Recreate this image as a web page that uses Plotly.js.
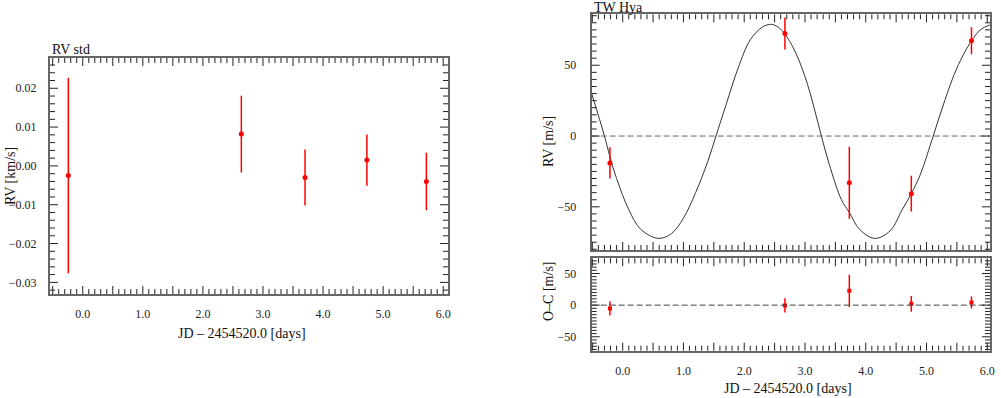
<!DOCTYPE html>
<html>
<head>
<meta charset="utf-8">
<script src="https://cdn.plot.ly/plotly-3.0.1.min.js"></script>
<style>
  html, body { margin: 0; padding: 0; background: #fff; }
  #plot { width: 1001px; height: 398px; }
</style>
</head>
<body>
<div id="plot"></div>
<script>
// Left panel: RV std (km/s)
const stdTime = [-0.24, 2.64, 3.70, 4.73, 5.72];
const stdRv = [-0.0025, 0.0082, -0.0030, 0.0015, -0.0040];
const stdErr = [0.0252, 0.0099, 0.0072, 0.0066, 0.0074];

// Right panel: TW Hya (m/s)
const hyaTime = [-0.21, 2.67, 3.73, 4.75, 5.74];
const hyaRv = [-19, 72.5, -33, -40.7, 67.3];
const hyaErr = [11, 11.3, 25.4, 12.6, 9.5];
const hyaResidual = [-5.3, -0.5, 22.6, 2, 4.2];

// Fitted curve
const fitTime = [-0.51, -0.3, -0.21, -0.1, 0.1, 0.3, 0.585, 0.8, 1.0, 1.2, 1.4, 1.535, 1.7, 1.9,
  2.1, 2.3, 2.45, 2.6, 2.8, 3.0, 3.15, 3.27, 3.4, 3.6, 3.73, 3.9, 4.15, 4.4, 4.6, 4.75, 4.9,
  5.11, 5.3, 5.5, 5.74, 5.9, 6.04];
const fitRv = [30, 0, -14.6, -30, -52, -66, -72.3, -69, -58, -40, -18, 0, 22, 48,
  68, 77, 78.9, 75.5, 63, 42, 20, 0, -20, -45, -54, -66, -72.3, -67, -52, -40.7, -27,
  0, 25, 48, 67.3, 75.5, 78.4];

// Tick labels on the time axes
const dayTicks = [0, 1, 2, 3, 4, 5, 6];
const dayLabels = dayTicks.map((d) => d.toFixed(1));

// Axis ranges
const stdTimeRange = [-0.545, 6.08];
const stdRvRange = [-0.033, 0.0278];
const hyaTimeRange = [-0.51, 6.045];
const hyaRvRange = [-80.5, 86];
const hyaResRange = [-72, 74];

const W = 1001, H = 398;
const px = (x) => x / W;
const py = (y) => 1 - y / H;

const serif = "Liberation Serif";
const red = "#ff0000";
const tickColor = "#222";

// Inside ticks of each box, drawn as pixel-sized line shapes on all four sides
function boxTicks(xref, yref, range, step, every, dir) {
  const out = [];
  const first = Math.ceil(range[0] / step - 1e-9);
  const last = Math.floor(range[1] / step + 1e-9);
  for (let i = first; i <= last; i++) {
    const v = i * step;
    const len = i % every === 0 ? 8 : 5;
    const line = { color: tickColor, width: 1 };
    if (dir === "x") {
      out.push({ type: "line", xref: xref, yref: yref + " domain", x0: v, x1: v,
        ysizemode: "pixel", yanchor: 0, y0: 0, y1: len, line: line });
      out.push({ type: "line", xref: xref, yref: yref + " domain", x0: v, x1: v,
        ysizemode: "pixel", yanchor: 1, y0: 0, y1: -len, line: line });
    } else {
      out.push({ type: "line", xref: xref + " domain", yref: yref, y0: v, y1: v,
        xsizemode: "pixel", xanchor: 0, x0: 0, x1: len, line: line });
      out.push({ type: "line", xref: xref + " domain", yref: yref, y0: v, y1: v,
        xsizemode: "pixel", xanchor: 1, x0: 0, x1: -len, line: line });
    }
  }
  return out;
}

// Shared look of the boxed axes
function boxAxis(extra) {
  return Object.assign({
    showline: true,
    linecolor: "#666",
    linewidth: 2,
    mirror: true,
    ticks: "",
    showgrid: false,
    zeroline: false,
    tickfont: { family: serif, size: 12, color: "#222" },
    fixedrange: true,
  }, extra);
}

function timeAxis(domain, range, anchor, labels) {
  return boxAxis({
    domain: domain,
    range: range,
    anchor: anchor,
    tickmode: "array",
    tickvals: dayTicks,
    ticktext: dayLabels,
    showticklabels: labels,
    ticklabelstandoff: 8,
  });
}

const traces = [
  {
    x: stdTime, y: stdRv, xaxis: "x", yaxis: "y",
    type: "scatter", mode: "markers",
    marker: { color: red, size: 5 },
    error_y: { type: "data", array: stdErr, color: red, thickness: 1.5, width: 0 },
    showlegend: false,
  },
  {
    x: fitTime, y: fitRv, xaxis: "x2", yaxis: "y2",
    type: "scatter", mode: "lines",
    line: { color: "#333", width: 1, shape: "spline", smoothing: 1 },
    showlegend: false,
  },
  {
    x: hyaTime, y: hyaRv, xaxis: "x2", yaxis: "y2",
    type: "scatter", mode: "markers",
    marker: { color: red, size: 5 },
    error_y: { type: "data", array: hyaErr, color: red, thickness: 1.5, width: 0 },
    showlegend: false,
  },
  {
    x: hyaTime, y: hyaResidual, xaxis: "x3", yaxis: "y3",
    type: "scatter", mode: "markers",
    marker: { color: red, size: 4, symbol: "square" },
    error_y: { type: "data", array: hyaErr, color: red, thickness: 1.5, width: 0 },
    showlegend: false,
  },
];

const zeroLines = [
  {
    type: "line", xref: "x2 domain", yref: "y2", x0: 0, x1: 1, y0: 0, y1: 0,
    line: { color: "#666", width: 1, dash: "6px,3px" },
  },
  {
    type: "line", xref: "x3 domain", yref: "y3", x0: 0, x1: 1, y0: 0, y1: 0,
    line: { color: "#444", width: 1, dash: "6px,3px" },
  },
];

const layout = {
  width: W,
  height: H,
  margin: { l: 0, r: 0, t: 0, b: 0 },
  paper_bgcolor: "#fff",
  plot_bgcolor: "#fff",
  font: { family: serif, color: "#222" },

  xaxis: timeAxis([px(50), px(448)], stdTimeRange, "y", true),
  yaxis: boxAxis({
    domain: [py(294), py(58)],
    range: stdRvRange,
    anchor: "x",
    dtick: 0.01,
    tickformat: ".2f",
    ticklabelstandoff: 9,
  }),

  xaxis2: timeAxis([px(591.7), px(990)], hyaTimeRange, "y2", false),
  yaxis2: boxAxis({
    domain: [py(250), py(14.3)],
    range: hyaRvRange,
    anchor: "x2",
    dtick: 50,
    ticklabelstandoff: 11,
  }),

  xaxis3: timeAxis([px(591.7), px(990)], hyaTimeRange, "y3", true),
  yaxis3: boxAxis({
    domain: [py(350.7), py(258.3)],
    range: hyaResRange,
    anchor: "x3",
    dtick: 50,
    ticklabelstandoff: 11,
  }),

  shapes: zeroLines.concat(
    boxTicks("x", "y", stdTimeRange, 0.1, 5, "x"),
    boxTicks("x", "y", stdRvRange, 0.002, 5, "y"),
    boxTicks("x2", "y2", hyaTimeRange, 0.1, 5, "x"),
    boxTicks("x2", "y2", hyaRvRange, 5, 10, "y"),
    boxTicks("x3", "y3", hyaTimeRange, 0.1, 5, "x"),
    boxTicks("x3", "y3", hyaResRange, 5, 10, "y")
  ),

  annotations: [
    { text: "RV std", x: px(50), y: py(49), xanchor: "left", yanchor: "middle" },
    { text: "TW Hya", x: px(591.7), y: py(7), xanchor: "left", yanchor: "middle" },
    { text: "RV [km/s]", x: px(10), y: py(176), textangle: -90 },
    { text: "JD – 2454520.0 [days]", x: px(242), y: py(333) },
    { text: "RV [m/s]", x: px(548), y: py(142), textangle: -90 },
    { text: "O–C [m/s]", x: px(548), y: py(291), textangle: -90 },
    { text: "JD – 2454520.0 [days]", x: px(788), y: py(388) },
  ].map((a) => Object.assign({
    xref: "paper", yref: "paper", showarrow: false,
    xanchor: "center", yanchor: "middle",
    font: { family: serif, size: 14, color: "#111" },
  }, a)),
};

Plotly.newPlot("plot", traces, layout, { displayModeBar: false });
</script>
</body>
</html>
